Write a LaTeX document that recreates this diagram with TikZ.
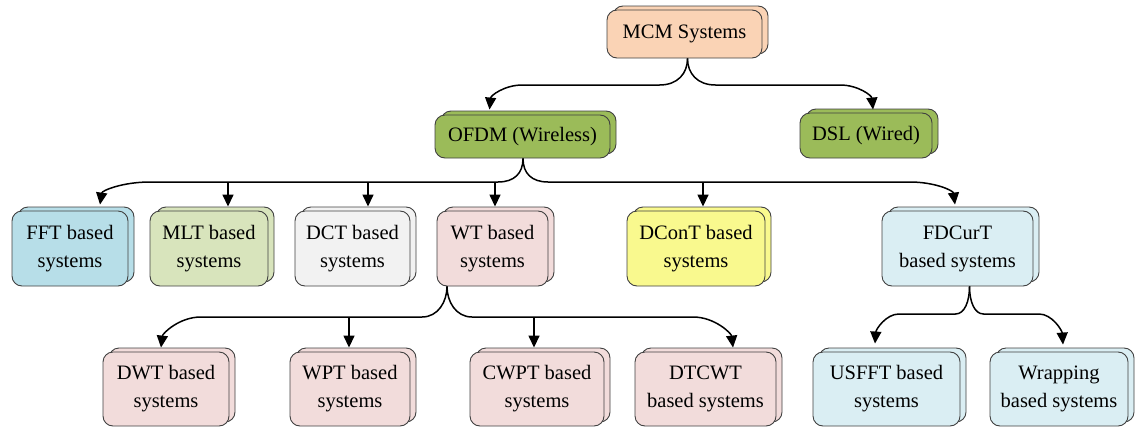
\documentclass[tikz,border=0pt]{standalone}
\usepackage{fontspec}
\setmainfont{Liberation Serif}
\usetikzlibrary{arrows.meta,shadows}
\definecolor{cmcm}{HTML}{FAD3B5}
\definecolor{cgreen}{HTML}{9BBB59}
\definecolor{cfft}{HTML}{B7DEE8}
\definecolor{cmlt}{HTML}{D8E4BC}
\definecolor{cdct}{HTML}{F2F2F2}
\definecolor{cpink}{HTML}{F2DCDB}
\definecolor{cyel}{HTML}{F9F98E}
\definecolor{clblue}{HTML}{DAEEF3}
\definecolor{cedge}{HTML}{404040}
% branch: junction, level coordinate, target, shift at junction, shift at target
\newcommand\brconn[5]{%
  \draw[conn] (#1) .. controls ([yshift=-15pt]#1) and ([xshift=#4*0.35pt]#1 |- #2) .. ([xshift=#4pt]#1 |- #2)
    -- ([xshift=#5pt]#3 |- #2) .. controls ([xshift=#5*0.45pt]#3 |- #2) and ([xshift=#5*0.04pt,yshift=14pt]#3) .. (#3);}
\begin{document}
\begin{tikzpicture}[x=1pt,y=-1pt,
  box/.style={draw=cedge, line width=0.9pt, fill=#1, rounded corners=10pt,
    align=center, inner sep=0pt, font=\fontsize{20.5}{28}\selectfont,
    copy shadow={shadow xshift=6pt, shadow yshift=4pt, draw=cedge, fill=#1, line width=0.9pt}},
  conn/.style={line width=1.5pt, -{Triangle[length=12pt,width=11pt]}},
  straight/.style={line width=1.5pt, -{Triangle[length=12pt,width=11pt]}}]
\useasboundingbox (0,0) rectangle (1137,431);

% level 0
\node[box=cmcm, minimum width=155pt, minimum height=48pt] (mcm) at (684.5,34) {MCM Systems};
% level 1
\node[box=cgreen, minimum width=175pt, minimum height=43pt] (ofdm) at (522.5,136.5) {OFDM (Wireless)};
\node[box=cgreen, minimum width=132pt, minimum height=45pt] (dsl) at (866,135.5) {DSL (Wired)};
% level 2
\node[box=cfft, minimum width=116pt, minimum height=75pt] (fft) at (70,248.5) {FFT based\\systems};
\node[box=cmlt, minimum width=118pt, minimum height=75pt] (mlt) at (209,248.5) {MLT based\\systems};
\node[box=cdct, minimum width=115pt, minimum height=75pt] (dct) at (352.5,248.5) {DCT based\\systems};
\node[box=cpink, minimum width=111pt, minimum height=75pt] (wt) at (492.5,248.5) {WT based\\systems};
\node[box=cyel, minimum width=138pt, minimum height=75pt] (dcont) at (696,248.5) {DConT based\\systems};
\node[box=clblue, minimum width=151pt, minimum height=75pt] (fdc) at (957.5,248.5) {FDCurT\\based systems};
% level 3
\node[box=cpink, minimum width=126pt, minimum height=74pt] (dwt) at (166,389) {DWT based\\systems};
\node[box=cpink, minimum width=120pt, minimum height=74pt] (wpt) at (350,389) {WPT based\\systems};
\node[box=cpink, minimum width=134pt, minimum height=74pt] (cwpt) at (537,389) {CWPT based\\systems};
\node[box=cpink, minimum width=141pt, minimum height=74pt] (dtcwt) at (705.5,389) {DTCWT\\based systems};
\node[box=clblue, minimum width=147pt, minimum height=74pt] (usfft) at (886.5,389) {USFFT based\\systems};
\node[box=clblue, minimum width=138pt, minimum height=74pt] (wrap) at (1059,389) {Wrapping\\based systems};

% junctions and levels
\coordinate (jM) at ([xshift=3pt]mcm.south);
\coordinate (jO) at ([xshift=0.5pt]ofdm.south);
\coordinate (jW) at ([xshift=-45.5pt]wt.south);
\coordinate (jF) at ([xshift=12pt]fdc.south);
\coordinate (hM) at (0,85);
\coordinate (hO) at (0,182);
\coordinate (hW) at (0,317);
\coordinate (hF) at (0,314);
% arrow targets
\coordinate (tofdm) at ([xshift=-33pt,yshift=5pt]ofdm.north);
\coordinate (tdsl) at ([xshift=7pt,yshift=3pt]dsl.north);
\coordinate (tfft) at ([xshift=30pt,yshift=6pt]fft.north);
\coordinate (tmlt) at ([xshift=19pt,yshift=4pt]mlt.north);
\coordinate (tdct) at ([xshift=15.5pt,yshift=4pt]dct.north);
\coordinate (twt) at ([xshift=2.5pt,yshift=4pt]wt.north);
\coordinate (tdcont) at ([xshift=7pt,yshift=4pt]dcont.north);
\coordinate (tfdc) at ([xshift=-2.5pt,yshift=6pt]fdc.north);
\coordinate (tdwt) at ([xshift=-5pt,yshift=4pt]dwt.north);
\coordinate (twpt) at ([xshift=-1pt,yshift=4pt]wpt.north);
\coordinate (tcwpt) at ([xshift=-3pt,yshift=4pt]cwpt.north);
\coordinate (tdtcwt) at ([xshift=27.5pt,yshift=4pt]dtcwt.north);
\coordinate (tusfft) at ([xshift=-11.5pt,yshift=8pt]usfft.north);
\coordinate (twrap) at ([xshift=4pt,yshift=7pt]wrap.north);

% MCM
\brconn{jM}{hM}{tofdm}{-28}{33}
\brconn{jM}{hM}{tdsl}{28}{-33}
% OFDM
\brconn{jO}{hO}{tfft}{-25}{50}
\brconn{jO}{hO}{tfdc}{25}{-45}
\draw[straight] (tmlt |- hO) -- (tmlt);
\draw[straight] (tdct |- hO) -- (tdct);
\draw[straight] (twt |- hO) -- (twt);
\draw[straight] (tdcont |- hO) -- (tdcont);
% WT
\brconn{jW}{hW}{tdwt}{-25}{40}
\brconn{jW}{hW}{tdtcwt}{25}{-40}
\draw[straight] (twpt |- hW) -- (twpt);
\draw[straight] (tcwpt |- hW) -- (tcwpt);
% FDCurT
\brconn{jF}{hF}{tusfft}{-14}{24}
\brconn{jF}{hF}{twrap}{14}{-24}
\end{tikzpicture}
\end{document}
